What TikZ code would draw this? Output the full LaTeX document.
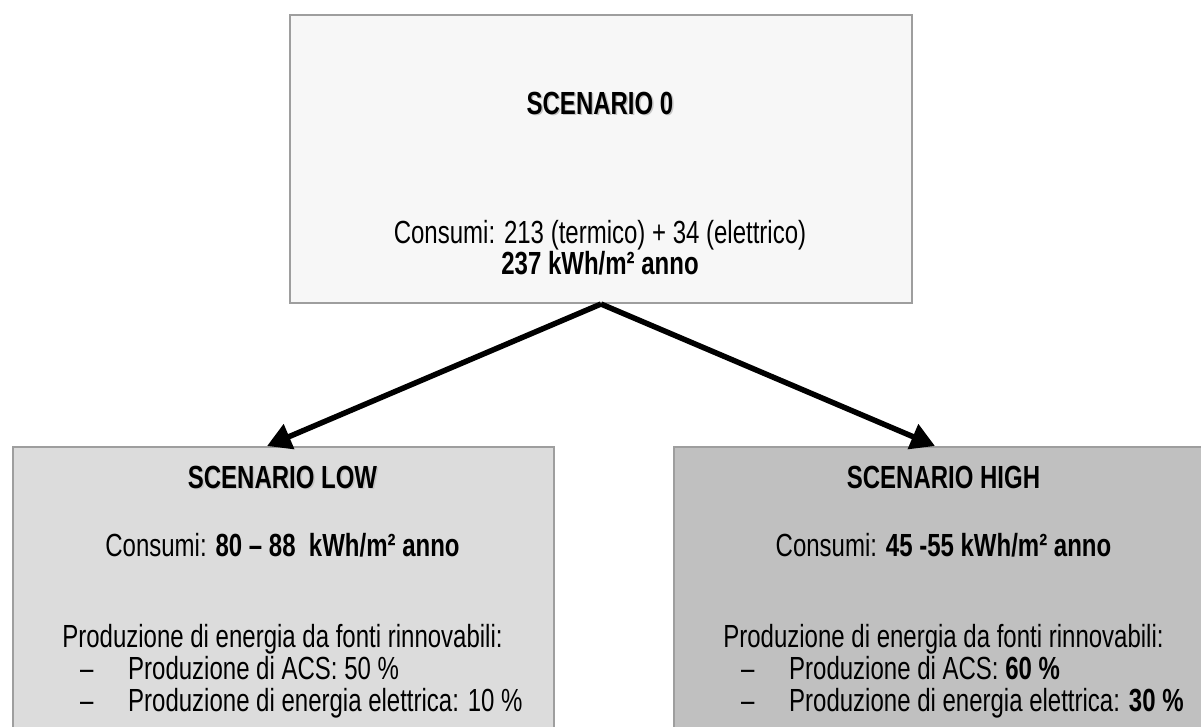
\documentclass[tikz,border=0pt]{standalone}
\usepackage{fontspec}
\setmainfont[FakeStretch=0.75]{Liberation Sans}
\usetikzlibrary{arrows.meta}
\definecolor{bordergray}{HTML}{9E9E9E}
\definecolor{topfill}{HTML}{F7F7F7}
\definecolor{lowfill}{HTML}{DCDCDC}
\definecolor{highfill}{HTML}{C0C0C0}
\newcommand\shtext[1]{\makebox[0pt][l]{\hspace{1.5pt}\raisebox{-1.5pt}{\color{gray!45}#1}}#1}
\tikzset{
  box/.style={draw=bordergray, line width=2pt, rectangle, inner sep=0pt, anchor=north west},
  txt/.style={font=\fontsize{32}{32}\selectfont, inner sep=0pt, anchor=base},
  ltxt/.style={txt, anchor=base west},
  conn/.style={line width=5.5pt, -{Triangle[length=24pt,width=26pt]}}
}
\begin{document}
\begin{tikzpicture}[x=1pt,y=-1pt]
\clip (0,0) rectangle (1201,726);
\fill[white] (0,0) rectangle (1201,726);
% boxes
\node[box, fill=topfill, minimum width=622pt, minimum height=288pt] (top) at (289,14) {};
\node[box, fill=lowfill, minimum width=541pt, minimum height=320pt] (low) at (12,446) {};
\node[box, fill=highfill, minimum width=541pt, minimum height=320pt] (high) at (673,446) {};
% top texts
\node[txt] (t0title) at (600,114) {\textbf{\shtext{SCENARIO 0}}};
\node[txt] (t0cons) at (600,243) {Consumi: 213 (termico) + 34 (elettrico)};
\node[txt] (t0val) at (600,274) {\textbf{237 kWh/m² anno}};
% low texts
\node[txt] (ltitle) at (282.5,488) {\textbf{\shtext{SCENARIO LOW}}};
\node[txt] (lcons) at (282.5,556) {Consumi: \textbf{80 – 88~ kWh/m² anno}};
\node[txt] (lprod) at (282.5,647) {Produzione di energia da fonti rinnovabili:};
\node[ltxt] (ld1) at (80,679) {–};
\node[ltxt] (lb1) at (128,679) {Produzione di ACS: 50 \%};
\node[ltxt] (ld2) at (80,711) {–};
\node[ltxt] (lb2) at (128,711) {Produzione di energia elettrica: 10 \%};
% high texts
\node[txt] (htitle) at (943.5,488) {\textbf{\shtext{SCENARIO HIGH}}};
\node[txt] (hcons) at (943.5,556) {Consumi: \textbf{45 -55 kWh/m² anno}};
\node[txt] (hprod) at (943.5,647) {Produzione di energia da fonti rinnovabili:};
\node[ltxt] (hd1) at (741,679) {–};
\node[ltxt] (hb1) at (789,679) {Produzione di ACS: \textbf{60 \%}};
\node[ltxt] (hd2) at (741,711) {–};
\node[ltxt] (hb2) at (789,711) {Produzione di energia elettrica: \textbf{30 \%}};
% connectors
\draw[conn] (top.south) -- ([xshift=255pt]low.north west);
\draw[conn] (top.south) -- ([xshift=262pt]high.north west);
\end{tikzpicture}
\end{document}
